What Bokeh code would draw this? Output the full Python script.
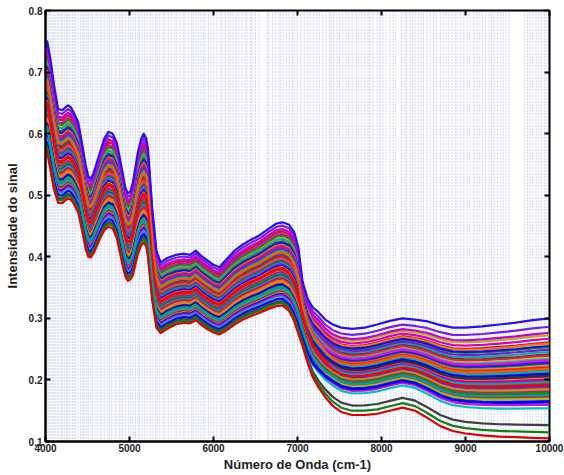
import numpy as np
from bokeh.plotting import figure
from bokeh.models import LinearAxis, FixedTicker
from bokeh.embed import file_html
from bokeh.resources import INLINE

# Wavenumber grid (cm-1) on which the envelope spectra are tabulated
WAVENUMBER = [4000, 4020, 4060, 4100, 4150, 4200, 4240, 4270, 4300, 4330, 4390, 4440,
              4480, 4510, 4540, 4570, 4650, 4700, 4750, 4800, 4850, 4920, 4950, 4980,
              5010, 5040, 5100, 5140, 5170, 5200, 5220, 5270, 5320, 5370, 5450, 5550,
              5650, 5720, 5790, 5850, 5920, 6000, 6070, 6150, 6250, 6350, 6450, 6550,
              6650, 6750, 6820, 6900, 6960, 7010, 7060, 7120, 7180, 7250, 7330, 7420,
              7520, 7650, 7800, 7950, 8100, 8250, 8400, 8550, 8700, 8850, 9000, 9200,
              9400, 9600, 9800, 10000]

# Highest and lowest spectra of the set
TOP_SPECTRUM = [0.745, 0.750, 0.720, 0.680, 0.640, 0.638, 0.643, 0.646, 0.643, 0.636, 0.618, 0.580,
                0.548, 0.530, 0.527, 0.535, 0.570, 0.592, 0.603, 0.600, 0.585, 0.535, 0.512, 0.503,
                0.506, 0.520, 0.570, 0.592, 0.600, 0.592, 0.575, 0.480, 0.410, 0.391, 0.398, 0.403,
                0.405, 0.403, 0.410, 0.402, 0.395, 0.387, 0.383, 0.395, 0.410, 0.420, 0.428, 0.435,
                0.445, 0.454, 0.456, 0.452, 0.440, 0.415, 0.360, 0.332, 0.318, 0.310, 0.298, 0.290,
                0.285, 0.283, 0.285, 0.290, 0.296, 0.300, 0.298, 0.295, 0.289, 0.285, 0.285, 0.287,
                0.290, 0.293, 0.297, 0.300]

BOTTOM_SPECTRUM = [0.575, 0.570, 0.540, 0.510, 0.488, 0.487, 0.492, 0.495, 0.493, 0.488, 0.472, 0.440,
                   0.412, 0.400, 0.399, 0.405, 0.430, 0.443, 0.449, 0.446, 0.430, 0.385, 0.368, 0.361,
                   0.363, 0.370, 0.405, 0.419, 0.423, 0.417, 0.400, 0.330, 0.285, 0.276, 0.283, 0.290,
                   0.293, 0.292, 0.297, 0.290, 0.283, 0.277, 0.274, 0.280, 0.290, 0.298, 0.304, 0.309,
                   0.315, 0.320, 0.321, 0.312, 0.296, 0.275, 0.255, 0.228, 0.205, 0.188, 0.172, 0.158,
                   0.148, 0.143, 0.143, 0.145, 0.150, 0.155, 0.150, 0.138, 0.125, 0.117, 0.113, 0.110,
                   0.108, 0.107, 0.106, 0.105]

# Relative level of each sample between the two envelopes,
# below 6950 cm-1 (W_LOW) and above 7400 cm-1 (W_HIGH)
W_LOW = [0.96, 0.91, 0.89, 0.86, 0.84, 0.81, 0.80, 0.77, 0.75, 0.73, 0.72, 0.70,
         0.68, 0.66, 0.65, 0.63, 0.61, 0.60, 0.58, 0.56, 0.55, 0.53, 0.51, 0.50,
         0.48, 0.46, 0.45, 0.43, 0.41, 0.40, 0.38, 0.36, 0.35, 0.33, 0.31, 0.30,
         0.28, 0.26, 0.25, 0.23, 0.21, 0.19, 0.17, 0.15, 0.14, 0.12, 0.10, 0.08,
         0.05, 0.03, 0.92, 0.64, 0.44, 0.22, 1.00, 0.00]
W_HIGH = [0.93, 0.86, 0.80, 0.83, 0.76, 0.79, 0.72, 0.70, 0.77, 0.67, 0.69, 0.64,
          0.74, 0.62, 0.66, 0.60, 0.63, 0.57, 0.59, 0.55, 0.65, 0.53, 0.56, 0.51,
          0.54, 0.50, 0.48, 0.52, 0.46, 0.49, 0.45, 0.44, 0.47, 0.42, 0.43, 0.40,
          0.41, 0.39, 0.37, 0.38, 0.36, 0.34, 0.35, 0.33, 0.31, 0.28, 0.25, 0.30,
          0.11, 0.05, 0.88, 0.58, 0.45, 0.36, 1.00, 0.00]

COLORS = ["#7a1fe0", "#b8b400", "#e01010", "#d000d0", "#109010", "#f08000", "#10a8a8",
          "#404040", "#1010f0", "#c8c000", "#e02040", "#b010c0", "#7020d0", "#20a020",
          "#20b0b0", "#e07010", "#2020e8", "#505050", "#ff1010", "#a0a000", "#e010e0",
          "#008000", "#00b0c0", "#8030e0", "#0000ff", "#ff8000", "#d01010", "#303030",
          "#b0b000", "#c000c0", "#10a010", "#1818f0", "#00a8a8", "#f01010", "#8020c0",
          "#ff7000", "#a8a800", "#e000a0", "#0000e0", "#109010", "#606060", "#10b0b0",
          "#e81010", "#b8b800", "#1010ff", "#d010d0", "#00c0c0", "#0000ff", "#404040",
          "#108010", "#c000e0", "#f06000", "#ff0000", "#00a0a0", "#2a10f0", "#e00000"]

# Selected spectral variables (cm-1)
SELECTED_WN = [4005, 4020, 4040, 4055, 4080, 4100, 4115, 4140, 4160, 4185, 4200, 4230,
               4250, 4265, 4290, 4320, 4340, 4360, 4390, 4420, 4445, 4460, 4490, 4510,
               4540, 4560, 4600, 4620, 4650, 4670, 4700, 4740, 4760, 4790, 4830, 4850,
               4880, 4900, 4920, 4950, 4985, 5010, 5040, 5070, 5100, 5120, 5150, 5180,
               5210, 5250, 5270, 5310, 5330, 5360, 5400, 5420, 5460, 5500, 5540, 5560,
               5600, 5640, 5660, 5700, 5740, 5760, 5790, 5820, 5850, 5880, 5900, 5940,
               5970, 6000, 6040, 6080, 6100, 6140, 6180, 6200, 6230, 6270, 6300, 6340,
               6380, 6400, 6440, 6460, 6500, 6540, 6640, 6660, 6700, 6740, 6780, 6800,
               6830, 6870, 6900, 6940, 6960, 7000, 7040, 7080, 7120, 7150, 7190, 7230,
               7260, 7300, 7340, 7380, 7400, 7430, 7470, 7500, 7540, 7580, 7610, 7650,
               7700, 7730, 7760, 7800, 7840, 7860, 7900, 7950, 7980, 8020, 8050, 8100,
               8140, 8170, 8240, 8280, 8300, 8340, 8370, 8400, 8440, 8470, 8500, 8540,
               8580, 8620, 8650, 8700, 8740, 8770, 8800, 8840, 8880, 8900, 8940, 8980,
               9020, 9050, 9100, 9140, 9170, 9200, 9240, 9280, 9310, 9340, 9380, 9420,
               9450, 9480, 9520, 9700, 9740, 9770, 9800, 9840, 9870, 9900, 9940, 9970, 9990]

X_TICKS = [4000, 5000, 6000, 7000, 8000, 9000, 10000]
Y_TICKS = [0.1, 0.2, 0.3, 0.4, 0.5, 0.6, 0.7, 0.8]

FONT = "Liberation Sans"

wn = np.array(WAVENUMBER, dtype=float)
top = np.array(TOP_SPECTRUM)
bottom = np.array(BOTTOM_SPECTRUM)
mix = np.clip((wn - 6950.0) / (7400.0 - 6950.0), 0.0, 1.0)

xs, ys = [], []
for wl, wh in zip(W_LOW, W_HIGH):
    w = wl * (1.0 - mix) + wh * mix
    xs.append(list(wn))
    ys.append(list(bottom + w * (top - bottom)))

p = figure(width=564, height=475, x_range=(4000, 10000), y_range=(0.1, 0.8),
           output_backend="svg", toolbar_location=None,
           min_border_left=45, min_border_right=15, min_border_top=10, min_border_bottom=34)
p.xgrid.visible = False
p.ygrid.visible = False
p.background_fill_color = "white"
p.border_fill_color = "white"
p.outline_line_color = "black"
p.outline_line_width = 2
p.outline_line_alpha = 1.0

# dotted markers of the selected variables
p.segment(x0=SELECTED_WN, x1=SELECTED_WN, y0=[0.1] * len(SELECTED_WN), y1=[0.8] * len(SELECTED_WN),
          line_color="#4b58dc", line_alpha=0.5, line_width=1, line_dash="1 2")

p.multi_line(xs=xs, ys=ys, line_color=COLORS[:len(xs)], line_width=2.2, line_join="round")

for ax in (p.xaxis[0], p.yaxis[0]):
    ax.axis_line_width = 2
    ax.axis_line_color = "black"
    ax.major_tick_in = 5
    ax.major_tick_out = 0
    ax.major_tick_line_width = 2
    ax.minor_tick_line_color = None
    ax.major_label_text_font = FONT
    ax.major_label_text_font_style = "bold"
    ax.major_label_text_font_size = "10px"
    ax.major_label_text_color = "#222222"
    ax.axis_label_text_font = FONT
    ax.axis_label_text_font_style = "bold"
    ax.axis_label_text_font_size = "13px"
    ax.axis_label_text_color = "#222222"

p.xaxis[0].ticker = FixedTicker(ticks=X_TICKS)
p.yaxis[0].ticker = FixedTicker(ticks=Y_TICKS)
p.xaxis[0].axis_label = "Número de Onda (cm-1)"
p.yaxis[0].axis_label = "Intensidade do sinal"
p.xaxis[0].major_label_standoff = 2
p.yaxis[0].major_label_standoff = 3
p.xaxis[0].axis_label_standoff = 2
p.yaxis[0].axis_label_standoff = 6

# mirrored ticks on the top and right edges of the box (no labels)
for loc, ticks in (("above", X_TICKS), ("right", Y_TICKS)):
    ax = LinearAxis(ticker=FixedTicker(ticks=ticks))
    ax.axis_line_color = None
    ax.major_tick_in = 5
    ax.major_tick_out = 0
    ax.major_tick_line_width = 2
    ax.minor_tick_line_color = None
    ax.major_label_text_color = None
    ax.major_label_text_font_size = "1px"
    ax.major_label_standoff = 0
    p.add_layout(ax, loc)

open("out.html", "w").write(file_html(p, INLINE))
